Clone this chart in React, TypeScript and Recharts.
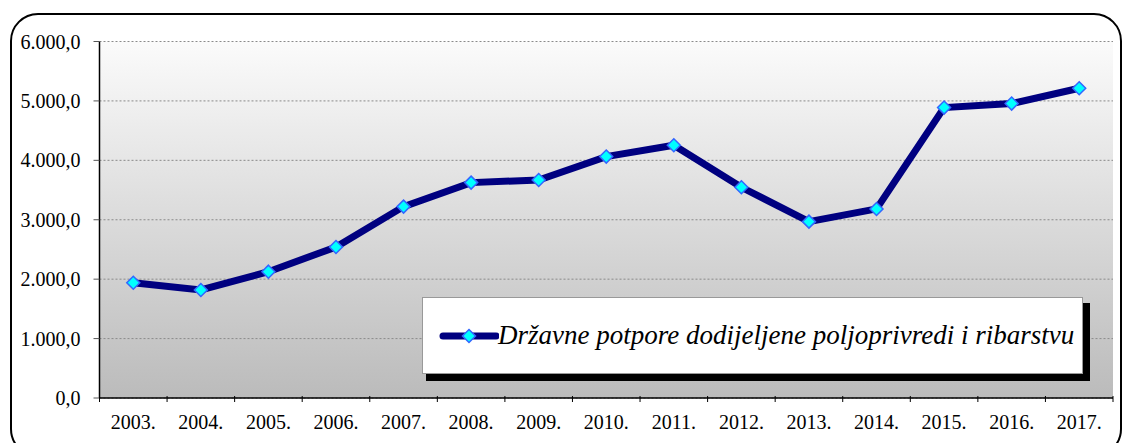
import { LineChart, Line, XAxis, YAxis, CartesianGrid } from "recharts";

const years = [
    "2003.", "2004.", "2005.", "2006.", "2007.", "2008.", "2009.", "2010.",
    "2011.", "2012.", "2013.", "2014.", "2015.", "2016.", "2017.",
];
const potpore = [
    1940, 1818, 2126, 2542, 3221, 3625, 3670, 4063,
    4254, 3547, 2968, 3182, 4888, 4955, 5213,
];
const yTicks = [0, 1000, 2000, 3000, 4000, 5000, 6000];
const seriesName = "Državne potpore dodijeljene poljoprivredi i ribarstvu";

const data = years.map((year, i) => ({ year, value: potpore[i] }));

const FONT = "Liberation Serif";
const NAVY = "#000080";

const fmt = (v: number) =>
    v.toLocaleString("de-DE", { minimumFractionDigits: 1, maximumFractionDigits: 1 });

const Diamond = (props: any) => {
    const { cx, cy } = props;
    if (cx == null || cy == null) return null;
    const r = 6.5;
    return (
        <path
            d={`M${cx},${cy - r} L${cx + r},${cy} L${cx},${cy + r} L${cx - r},${cy} Z`}
            fill="#00FFFF"
            stroke="#3366FF"
            strokeWidth={1.5}
        />
    );
};

const XTick = (props: any) => {
    const { x, y, payload, index } = props;
    const half = 1013.5 / years.length / 2;
    const top = y - 10;
    return (
        <g>
            <line x1={x - half} x2={x - half} y1={top} y2={top + 6} stroke="#000" strokeWidth={1} />
            {index === years.length - 1 && (
                <line x1={x + half} x2={x + half} y1={top} y2={top + 6} stroke="#000" strokeWidth={1} />
            )}
            <text x={x} y={top + 33} textAnchor="middle" fontFamily={FONT} fontSize={20} fill="#000">
                {payload.value}
            </text>
        </g>
    );
};

const YTick = (props: any) => {
    const { x, y, payload } = props;
    return (
        <text x={x} y={y + 7} textAnchor="end" fontFamily={FONT} fontSize={20} fill="#000">
            {fmt(payload.value)}
        </text>
    );
};

const LegendBox = () => (
    <div style={styles.legendOuter}>
        <div style={styles.legendShadow} />
        <div style={styles.legendBox}>
            <svg width={60} height={20} style={{ marginLeft: 16, flexShrink: 0 }}>
                <line x1={4} x2={57} y1={10} y2={10} stroke={NAVY} strokeWidth={7} strokeLinecap="round" />
                <Diamond cx={30} cy={10} />
            </svg>
            <span style={styles.legendText}>{seriesName}</span>
        </div>
    </div>
);

export default function App() {
    return (
        <div style={styles.page}>
            <div style={styles.frame} />
            <LineChart
                width={1123}
                height={443}
                data={data}
                margin={{ top: 41.5, right: 10, bottom: 15, left: 9.5 }}
                style={{ fontFamily: FONT }}
            >
                <defs>
                    <linearGradient id="plotBg" x1="0" y1="0" x2="0" y2="1">
                        <stop offset="0%" stopColor="#fbfbfb" />
                        <stop offset="100%" stopColor="#bbbbbb" />
                    </linearGradient>
                </defs>
                <CartesianGrid
                    vertical={false}
                    stroke="#8a8a8a"
                    strokeDasharray="2 2"
                    fill="url(#plotBg)"
                    fillOpacity={1}
                />
                <XAxis
                    dataKey="year"
                    scale="band"
                    interval={0}
                    height={30}
                    tickLine={false}
                    axisLine={{ stroke: "#000", strokeWidth: 1.5 }}
                    tick={<XTick />}
                />
                <YAxis
                    domain={[0, 6000]}
                    ticks={yTicks}
                    width={90}
                    tickSize={6}
                    tickMargin={13}
                    axisLine={{ stroke: "#000", strokeWidth: 1.5 }}
                    tickLine={{ stroke: "#555" }}
                    tick={<YTick />}
                />
                <Line
                    type="linear"
                    dataKey="value"
                    name={seriesName}
                    stroke={NAVY}
                    strokeWidth={7}
                    dot={<Diamond />}
                    activeDot={false}
                    isAnimationActive={false}
                />
            </LineChart>
            <LegendBox />
        </div>
    );
}

const styles: Record<string, React.CSSProperties> = {
    page: {
        position: "absolute", left: 0, top: 0, width: 1123, height: 443,
        overflow: "hidden", background: "#fff",
    },
    frame: {
        position: "absolute", left: 10, top: 13, width: 1108, height: 440,
        border: "2.5px solid #000", borderRadius: 28, pointerEvents: "none",
    },
    legendOuter: { position: "absolute", left: 422, top: 297, width: 668, height: 84 },
    legendShadow: {
        position: "absolute", left: 4, top: 6, width: 664, height: 78, background: "#000",
    },
    legendBox: {
        position: "absolute", left: 0, top: 0, width: 659, height: 75,
        background: "#fff", border: "1px solid #999",
        display: "flex", alignItems: "center",
    },
    legendText: {
        fontFamily: FONT, fontStyle: "italic", fontSize: 27, color: "#000",
        whiteSpace: "nowrap", marginLeft: -1,
    },
};
